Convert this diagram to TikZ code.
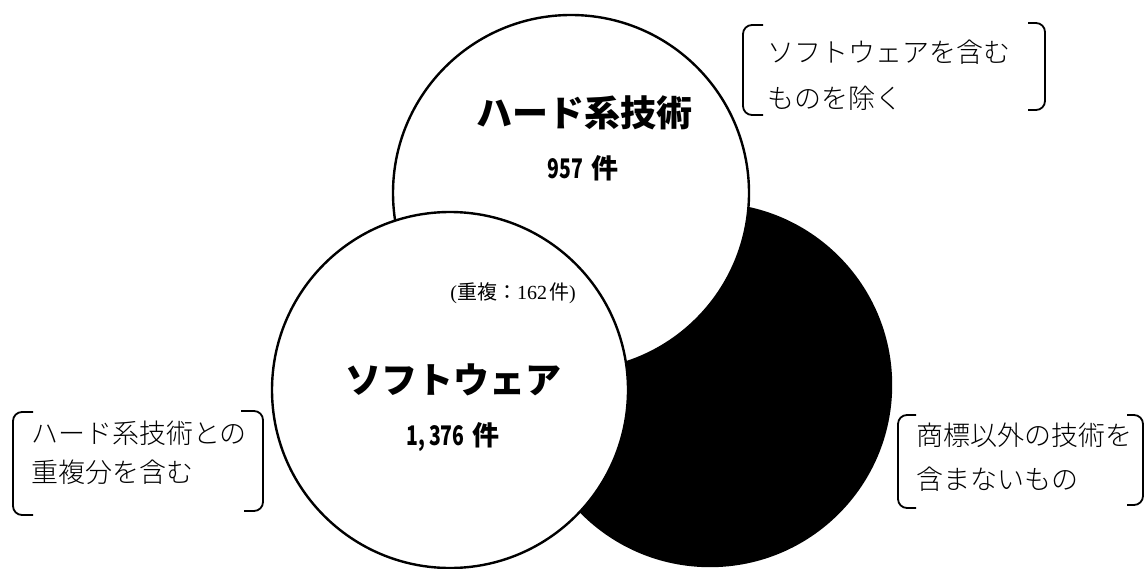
\documentclass[tikz,border=0pt]{standalone}
\usepackage{graphicx}
\usepackage{fontspec}
\newfontfamily\cjk{Noto Sans CJK JP}
\newfontfamily\cjklight{Noto Sans CJK JP Light}
\newfontfamily\serifnum{Liberation Serif}
\newcommand\condig[1]{\scalebox{0.72}[1]{#1}}
\begin{document}
\begin{tikzpicture}[x=1pt,y=-1pt,
  venn/.style={circle, draw=black, line width=2.4pt, inner sep=0pt, fill=white},
  titlelbl/.style={font=\cjk\bfseries\fontsize{36}{40}\selectfont, inner sep=0pt},
  countlbl/.style={font=\cjk\bfseries\fontsize{27}{30}\selectfont, inner sep=0pt},
  overlbl/.style={font=\cjk\fontsize{20}{24}\selectfont, inner sep=0pt},
  notelbl/.style={font=\cjklight\fontsize{27}{30}\selectfont, anchor=west, inner sep=0pt},
  bracketline/.style={line width=1.8pt, rounded corners=9pt}]
\useasboundingbox (0,0) rectangle (1147,569);
\fill[white] (0,0) rectangle (1147,569);
% circles
\node[venn, fill=black, minimum size=362pt] (other) at (710,385) {};
\node[venn, minimum size=356pt] (hard) at (571,193) {};
\node[venn, minimum size=356pt] (soft) at (450,390) {};
% circle labels
\node[titlelbl] (hardname) at (584,113) {ハード系技術};
\node[countlbl] (hardcount) at (583,168) {\condig{957}\hspace{8pt}件};
\node[overlbl] (overlap) at (513,293) {{\serifnum(}重複：{\serifnum 162}\hspace{2pt}件{\serifnum)}};
\node[titlelbl] (softname) at (453,380) {ソフトウェア};
\node[countlbl] (softcount) at (453,437) {\condig{1,}\hspace{4pt}\condig{376}\hspace{8pt}件};
% notes
\node[notelbl] (topA) at (767,52) {ソフトウェアを含む};
\node[notelbl] (topB) at (767,98) {ものを除く};
\node[notelbl] (leftA) at (31,433) {ハード系技術との};
\node[notelbl] (leftB) at (31,472) {重複分を含む};
\node[notelbl] (rightA) at (916,435) {商標以外の技術を};
\node[notelbl] (rightB) at (916,479) {含まないもの};
% brackets
\draw[bracketline] (763,25) -- (743,25) -- (743,115) -- (763,115);
\draw[bracketline] (1028,23) -- (1045,23) -- (1045,110) -- (1028,110);
\draw[bracketline] (33,412) -- (13,412) -- (13,515) -- (33,515);
\draw[bracketline] (241,411) -- (263,411) -- (263,511) -- (244,511);
\draw[bracketline] (916,415) -- (898,415) -- (898,508) -- (916,508);
\draw[bracketline] (1127,415) -- (1143,415) -- (1143,505) -- (1127,505);
\end{tikzpicture}
\end{document}
